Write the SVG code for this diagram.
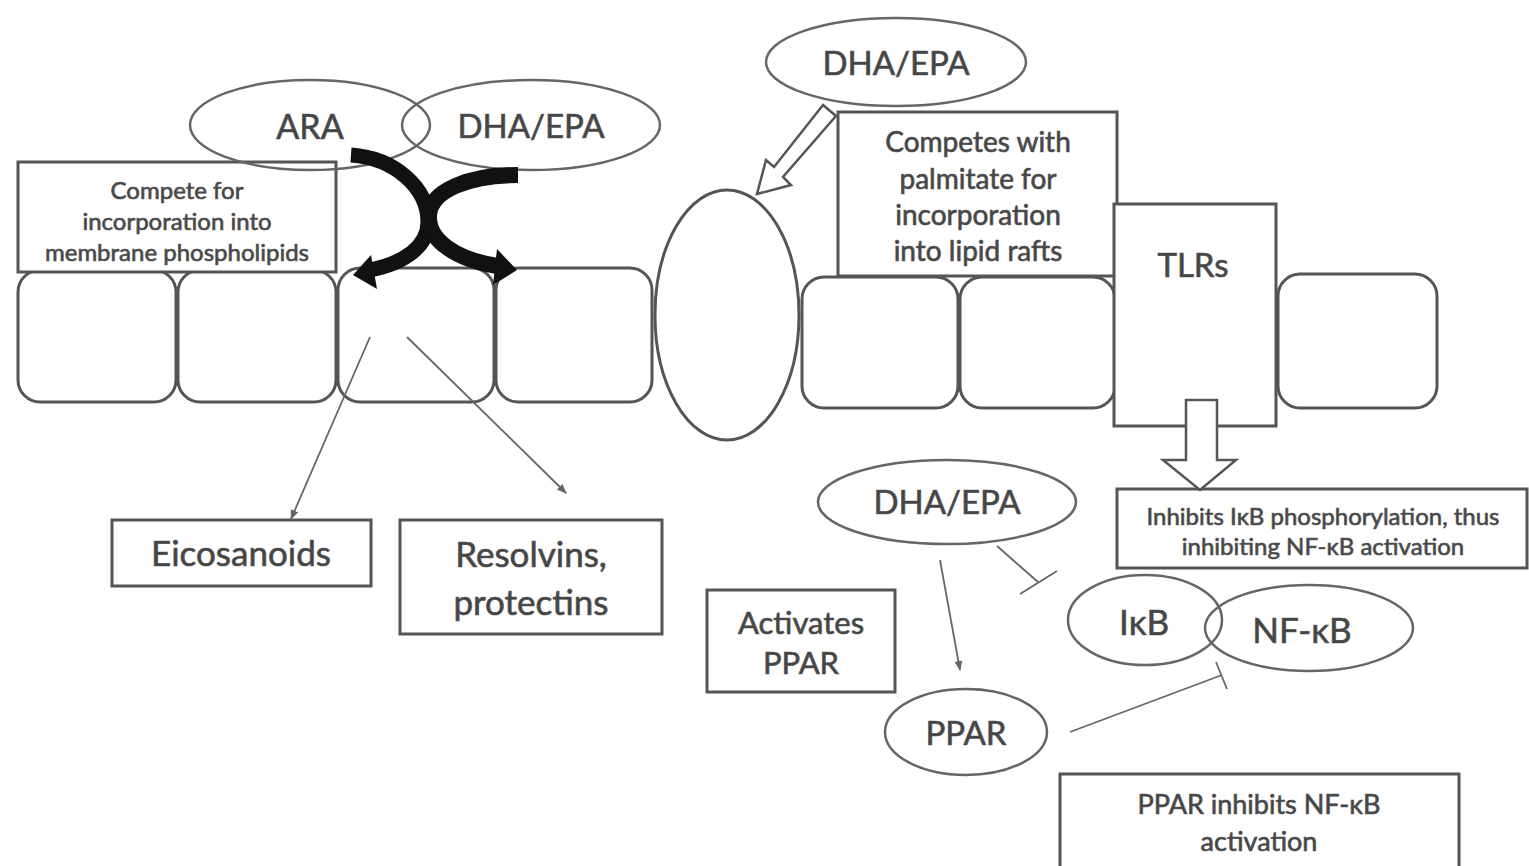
<svg xmlns="http://www.w3.org/2000/svg" width="1529" height="866" viewBox="0 0 1529 866">
<defs>
<style>
.s{fill:#fff;stroke:#555;stroke-width:3}
.o{fill:none;stroke:#666;stroke-width:2.5}
.t{font-family:Lato,"Open Sans","Liberation Sans",sans-serif;fill:#444;stroke:#555;stroke-width:0.7;text-anchor:middle;dominant-baseline:central}
.ln{fill:none;stroke:#666;stroke-width:1.8}
.blk{fill:none;stroke:#111}
</style>
<marker id="ah" viewBox="0 0 10 10" refX="9" refY="5" markerWidth="10" markerHeight="10" markerUnits="userSpaceOnUse" orient="auto"><path d="M0,1 L10,5 L0,9 Z" fill="#666"/></marker>
</defs>
<rect width="1529" height="866" fill="#fff"/>

<g id="cells">
<rect class="s" x="18" y="270" width="158" height="132" rx="22"/>
<rect class="s" x="178" y="270" width="158" height="132" rx="22"/>
<rect class="s" x="338" y="268" width="156" height="134" rx="22"/>
<rect class="s" x="496" y="268" width="156" height="134" rx="22"/>
<rect class="s" x="802" y="277" width="156" height="131" rx="22"/>
<rect class="s" x="960" y="277" width="155" height="131" rx="22"/>
<rect class="s" x="1278" y="274" width="159" height="134" rx="22"/>
</g>

<g id="channel"><ellipse class="s" cx="727" cy="315" rx="72" ry="125"/></g>

<g id="compete-box">
<rect class="s" x="18" y="162" width="318" height="110"/>
<text class="t" font-size="24" x="177" y="189">Compete for</text>
<text class="t" font-size="24" x="177" y="220">incorporation into</text>
<text class="t" font-size="24" x="177" y="251">membrane phospholipids</text>
</g>

<g id="ara"><ellipse class="o" cx="310" cy="125" rx="120" ry="45"/><text class="t" font-size="34" x="310" y="125">ARA</text></g>
<g id="dha1"><ellipse class="o" cx="531" cy="125" rx="129" ry="45"/><text class="t" font-size="33" x="531" y="125">DHA/EPA</text></g>
<g id="dha2"><ellipse class="o" cx="896" cy="62" rx="130" ry="44"/><text class="t" font-size="33" x="896" y="62">DHA/EPA</text></g>

<g id="competes-box">
<rect class="s" x="838" y="112" width="279" height="164"/>
<text class="t" font-size="28" x="978" y="141">Competes with</text>
<text class="t" font-size="28" x="978" y="178">palmitate for</text>
<text class="t" font-size="28" x="978" y="214">incorporation</text>
<text class="t" font-size="28" x="978" y="250">into lipid rafts</text>
</g>

<g id="tlrs"><rect class="s" x="1114" y="204" width="162" height="222"/><text class="t" font-size="33" x="1193" y="264">TLRs</text></g>

<g id="eico"><rect class="s" x="112" y="520" width="259" height="66"/><text class="t" font-size="35" x="241" y="552">Eicosanoids</text></g>
<g id="resolv"><rect class="s" x="400" y="520" width="262" height="114"/><text class="t" font-size="35" x="531" y="553">Resolvins,</text><text class="t" font-size="35" x="531" y="601">protectins</text></g>

<g id="inhibits-box"><rect class="s" x="1117" y="489" width="410" height="79"/>
<text class="t" font-size="24" x="1323" y="515">Inhibits IκB phosphorylation, thus</text>
<text class="t" font-size="24" x="1323" y="545">inhibiting NF-κB activation</text></g>

<g id="dha3"><ellipse class="o" cx="947" cy="502" rx="129" ry="42"/><text class="t" font-size="33" x="947" y="501">DHA/EPA</text></g>
<g id="activates"><rect class="s" x="707" y="590" width="188" height="102"/><text class="t" font-size="31" x="801" y="622">Activates</text><text class="t" font-size="31" x="801" y="662">PPAR</text></g>
<g id="ppar"><ellipse class="o" cx="966" cy="732" rx="81" ry="43"/><text class="t" font-size="33" x="966" y="732">PPAR</text></g>
<g id="ikb"><ellipse class="o" cx="1145" cy="620" rx="77" ry="45"/><text class="t" font-size="35" x="1144" y="621">IκB</text></g>
<g id="nfkb"><ellipse class="o" cx="1309" cy="628" rx="104" ry="43"/><text class="t" font-size="35" x="1302" y="629">NF-κB</text></g>
<g id="ppar-box"><rect class="s" x="1060" y="774" width="399" height="95"/>
<text class="t" font-size="27" x="1259" y="803">PPAR inhibits NF-κB</text>
<text class="t" font-size="27" x="1259" y="840">activation</text></g>

<g id="connectors">
<path class="blk" stroke-width="15" d="M351,155 C395,158 428,188 428,222 C428,246 405,263 370,270"/>
<polygon points="353,275 371,255 377,289" fill="#111"/>
<path class="blk" stroke-width="16" d="M518,175 C470,175 430,190 429,216 C428,240 455,259 497,266"/>
<polygon points="517,270 497,249 493,285" fill="#111"/>
<polygon points="823,105 836,116 783,177 791,185 757,194 766,160 774,167" fill="#fff" stroke="#555" stroke-width="2.5"/>
<polygon points="1186,400 1217,400 1217,460 1236,460 1200,490 1163,460 1186,460" fill="#fff" stroke="#555" stroke-width="2.5"/>
<line class="ln" x1="370" y1="337" x2="291" y2="519" marker-end="url(#ah)"/>
<line class="ln" x1="407" y1="337" x2="566" y2="493" marker-end="url(#ah)"/>
<line class="ln" x1="940" y1="560" x2="960" y2="670" marker-end="url(#ah)"/>
<line class="ln" x1="997" y1="546" x2="1038" y2="582"/>
<line class="ln" x1="1020" y1="594" x2="1057" y2="571"/>
<line class="ln" x1="1070" y1="732" x2="1222" y2="675"/>
<line class="ln" x1="1216" y1="662" x2="1227" y2="689"/>
</g>
</svg>
